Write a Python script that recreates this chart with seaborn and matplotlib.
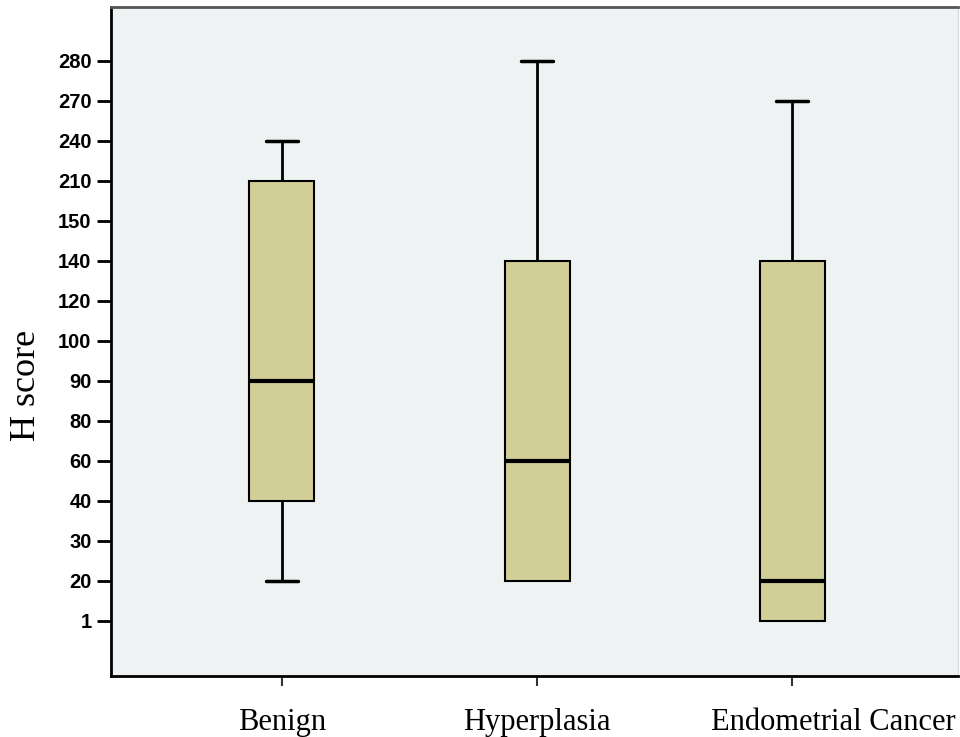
import numpy as np
import pandas as pd
import seaborn as sns
import matplotlib
matplotlib.use("Agg")
import matplotlib.pyplot as plt
import matplotlib.transforms as mtransforms

# ordinal H-score levels shown on the y axis (evenly spaced in the original)
levels = [1, 20, 30, 40, 60, 80, 90, 100, 120, 140, 150, 210, 240, 270, 280]

groups = ["Benign", "Hyperplasia", "Endometrial Cancer"]
# min, Q1, median, Q3, max
benign = [20, 40, 90, 210, 240]
hyperplasia = [20, 20, 60, 140, 280]
cancer = [1, 1, 20, 140, 270]

box_color = "#d2ce98"
bg_color = "#eff2f3"
box_width = 0.255

sns.set_style("ticks")

rows = []
for name, vals in zip(groups, [benign, hyperplasia, cancer]):
    for v in vals:
        rows.append({"group": name, "score": v, "pos": levels.index(v)})
df = pd.DataFrame(rows)

fig = plt.figure(figsize=(9.6, 7.37), dpi=100)
ax = fig.add_axes([0.1156, 0.0828, 0.8824, 0.9077])
ax.set_facecolor(bg_color)

sns.boxplot(data=df, x="group", y="pos", order=groups, color=box_color,
            saturation=1, width=box_width, whis=(0, 100), linecolor="black",
            linewidth=1.5, ax=ax,
            medianprops=dict(linewidth=3, color="black"),
            whiskerprops=dict(linewidth=2),
            capprops=dict(linewidth=2.5))

# drop caps/whiskers that have zero length (SPSS does not draw them)
flat_y = []
for ln in ax.lines:
    x, y = np.asarray(ln.get_xdata(), float), np.asarray(ln.get_ydata(), float)
    if len(x) == 2 and x[0] == x[1] and y[0] == y[1]:
        ln.set_visible(False)
        flat_y.append((x[0], y[0]))
for ln in ax.lines:
    x, y = np.asarray(ln.get_xdata(), float), np.asarray(ln.get_ydata(), float)
    if len(x) == 2 and y[0] == y[1] and abs(x[1] - x[0]) < box_width * 0.9:
        for cx, cy in flat_y:
            if abs((x[0] + x[1]) / 2 - cx) < 1e-6 and y[0] == cy:
                ln.set_visible(False)

ax.set_xlim(-0.67, 2.65)
ax.set_ylim(-1.375, 15.35)

ax.set_yticks(range(len(levels)))
ax.set_yticklabels([str(l) for l in levels], fontfamily="Liberation Sans",
                   fontweight="bold", fontsize=14.5, color="black")
ax.set_xticks(range(len(groups)))
ax.set_xticklabels(groups, fontfamily="Liberation Serif", fontsize=22, color="black")

ax.tick_params(axis="y", length=10, width=2, color="black", pad=4)
ax.tick_params(axis="x", length=7, width=1.5, color="#333333", pad=16)

# the last label sits a bit right of its tick in the original
lab = ax.get_xticklabels()[-1]
lab.set_transform(lab.get_transform() +
                  mtransforms.ScaledTranslation(0.41, 0, fig.dpi_scale_trans))

ax.set_xlabel("")
ax.set_ylabel("H score", fontfamily="Liberation Serif", fontsize=26, color="black")
ax.yaxis.set_label_coords(-0.08, 0.435)

for side in ["left", "bottom"]:
    ax.spines[side].set_linewidth(2)
    ax.spines[side].set_color("black")
ax.spines["top"].set_visible(True)
ax.spines["top"].set_color("#555555")
ax.spines["top"].set_linewidth(2)
ax.spines["right"].set_visible(True)
ax.spines["right"].set_color("#d8dcdc")
ax.spines["right"].set_linewidth(1)

fig.savefig("out.png", dpi=100, facecolor="white")
